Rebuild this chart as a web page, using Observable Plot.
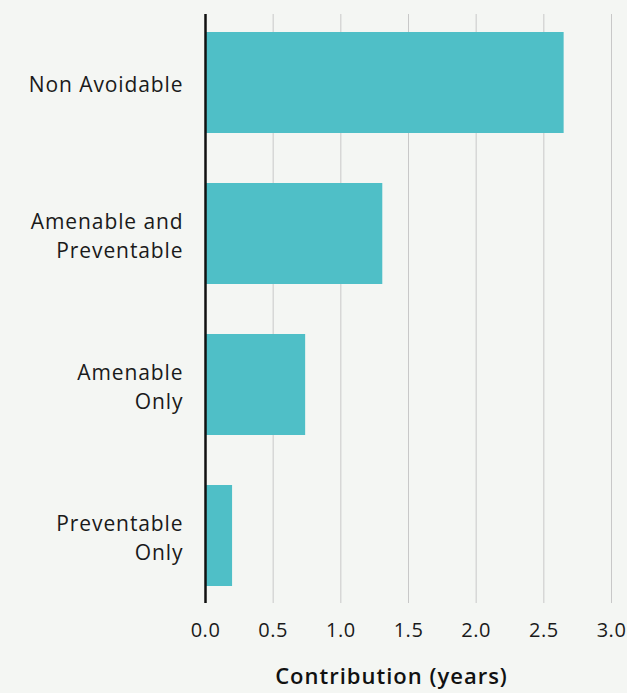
<!DOCTYPE html>
<html>
<head>
<meta charset="utf-8">
<script src="https://cdn.jsdelivr.net/npm/d3@7"></script>
<script src="https://cdn.jsdelivr.net/npm/@observablehq/plot@0.6"></script>
<style>
  html, body { margin: 0; padding: 0; background: #f4f6f3; }
  #chart svg { display: block; }
  #chart svg g[aria-label="y-axis tick label"] text { letter-spacing: 0.9px; }
  #chart svg g[aria-label="x-axis tick label"] text { letter-spacing: 0.5px; }
  #chart svg g[aria-label="text"] text { letter-spacing: 1px; }
</style>
</head>
<body>
<div id="chart"></div>
<script>
const categories = ["Non Avoidable", "Amenable and Preventable", "Amenable Only", "Preventable Only"];
const categoryLabels = ["Non Avoidable", "Amenable and\nPreventable", "Amenable\nOnly", "Preventable\nOnly"];
const values = [2.65, 1.31, 0.74, 0.20];
const xTicks = [0, 0.5, 1.0, 1.5, 2.0, 2.5, 3.0];

const data = categories.map((c, i) => ({category: c, value: values[i]}));
const labelOf = new Map(categories.map((c, i) => [c, categoryLabels[i]]));

const chart = Plot.plot({
  width: 627,
  height: 693,
  marginTop: 14,
  marginBottom: 90,
  marginLeft: 205,
  marginRight: 16,
  style: {background: "#f4f6f3", fontFamily: "'Open Sans', sans-serif", color: "#1a1a1a"},
  x: {domain: [0, 3], ticks: xTicks, label: null},
  y: {domain: categories, paddingInner: 0.332, paddingOuter: 0.113, label: null},
  marks: [
    Plot.gridX(xTicks, {stroke: "#c8c8c8", strokeOpacity: 1, strokeWidth: 1}),
    Plot.barX(data, {x: "value", y: "category", fill: "#4fbfc7"}),
    Plot.ruleX([0], {stroke: "#111", strokeWidth: 2.5}),
    Plot.axisX(xTicks, {tickSize: 0, tickPadding: 19, fontSize: 20, tickFormat: d3.format(".1f"), label: null, fill: "#1a1a1a"}),
    Plot.axisY({tickSize: 0, tickPadding: 22, fontSize: 21, lineHeight: 1.38, tickFormat: d => labelOf.get(d), label: null, fill: "#1a1a1a"}),
    Plot.text(["Contribution (years)"], {frameAnchor: "bottom", dy: 73, dx: -17, fontSize: 22, fontWeight: 600, fill: "#111", lineAnchor: "middle"})
  ]
});
document.getElementById("chart").appendChild(chart);
</script>
</body>
</html>
